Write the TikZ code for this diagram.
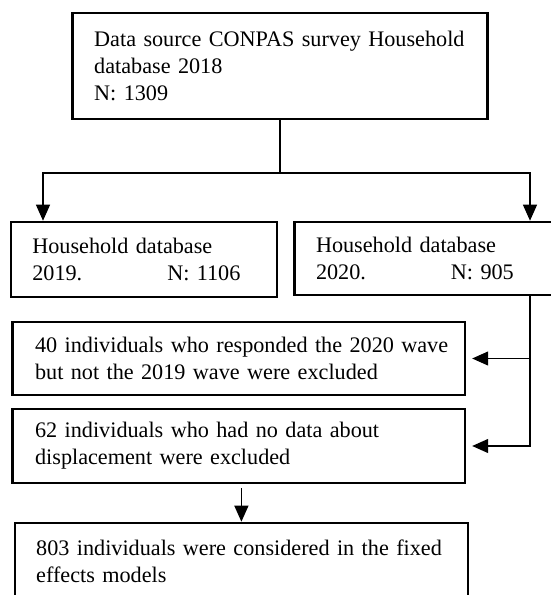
\documentclass[tikz,border=0pt]{standalone}
\usepackage{fontspec}
\setmainfont{Liberation Serif}
\usetikzlibrary{arrows.meta}
\tikzstyle{stage} = [rectangle,
                    draw=black,
                    line width=2.6pt,
                    align=left,
                    inner xsep=2pt,
                    font=\fontsize{22.2}{27}\selectfont]
\tikzstyle{flow} = [x=1pt, y=-1pt,
                   >={Triangle[width=14pt,length=16pt]},
                   line width=1.2pt]
\begin{document}
\begin{tikzpicture}[flow]
    \useasboundingbox (0,0) rectangle (551,595);
    \node (src) [stage, minimum width=415pt, minimum height=106pt, text width=371.6pt] at (280,66) {\mbox{Data source CONPAS survey Household}\\database 2018\\N: 1309};
    \node (hh19) [stage, minimum width=266pt, minimum height=75pt, text width=223.2pt] at (143.9,259.5) {Household database\\2019.\hspace{85pt}N: 1106};
    \node (hh20) [stage, minimum width=266pt, minimum height=73pt, text width=223pt] at (427.5,258.5) {Household database\\2020.\hspace{85pt}N: 905};
    \node (ex40) [stage, minimum width=452.6pt, minimum height=73pt, text width=407pt] at (238.6,358.5) {\mbox{40 individuals who responded the 2020 wave}\\but not the 2019 wave were excluded};
    \node (ex62) [stage, minimum width=452.6pt, minimum height=74pt, text width=407pt] at (238.6,446) {62 individuals who had no data about\\displacement were excluded};
    \node (final) [stage, minimum width=453pt, minimum height=76pt, text width=410.4pt] at (241.4,561) {\mbox{803 individuals were considered in the fixed}\\effects models};
    \coordinate (left) at (43,173);
    \coordinate (right) at (530,173);
    \draw[->] (src.south) |- (left) -- (left |- hh19.north);
    \draw[->] (src.south) |- (right) -- (right |- hh20.north);
    \draw[->] (right |- hh20.south) |- ([xshift=6pt]ex62.east);
    \draw[->] (right |- ex40.east) -- ([xshift=6pt]ex40.east);
    \draw[->, shorten <=4pt] (final.north |- ex62.south) -- (final.north);
\end{tikzpicture}
\end{document}
